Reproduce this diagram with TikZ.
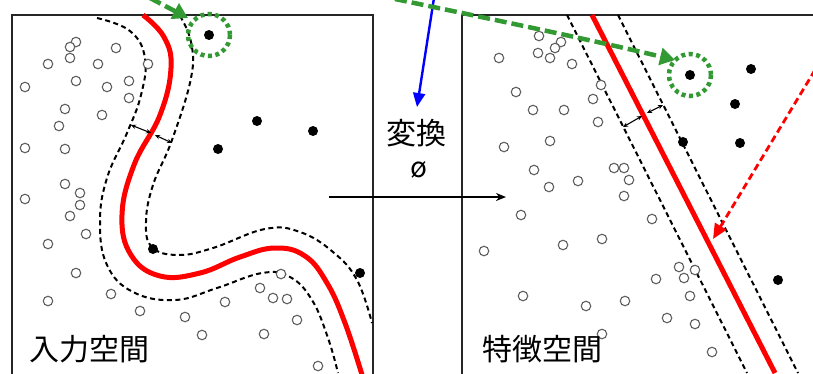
\documentclass[tikz,border=0pt]{standalone}
\usepackage{fontspec}
\setmainfont{Noto Sans CJK JP}
\usetikzlibrary{arrows.meta}
\definecolor{ggreen}{RGB}{51,153,51}
\definecolor{gray6}{RGB}{95,95,95}
\begin{document}
\begin{tikzpicture}[x=1pt,y=-1pt,
  open/.style={circle,draw=gray6,fill=white,line width=1.1pt,inner sep=0pt,minimum size=9.5pt},
  full/.style={circle,fill=black,inner sep=0pt,minimum size=10pt},
  frame/.style={line width=2pt, draw=black!85},
  margin/.style={dash pattern=on 5pt off 3.5pt, line width=2pt},
  sep/.style={red, line width=5pt},
  gap/.style={{Stealth[length=5pt,width=4.5pt]}-{Stealth[length=5pt,width=4.5pt]}, line width=1.1pt},
  hl/.style={draw=ggreen, dash pattern=on 4pt off 3.5pt, line width=4.5pt},
  garrow/.style={draw=ggreen, dash pattern=on 12pt off 5pt, line width=4.5pt, -{Triangle[length=15pt,width=17pt,fill=ggreen]}},
  lbl/.style={font=\fontsize{30}{30}\selectfont, inner sep=0pt}
]
\useasboundingbox (0,0) rectangle (813,373);
\clip (0,0) rectangle (813,373);
\fill[white] (0,0) rectangle (813,373);

% frames
\draw[frame] (12,390) -- (12,15) -- (373,15) -- (373,390);
\draw[frame] (462,390) -- (462,15) -- (830,15);

% ---- left panel ----
\draw[margin] plot[smooth,tension=0.7] coordinates {(97,18) (130,31) (145,58) (141,95) (127,133) (107,178) (100,222) (107,265) (133,292) (175,300) (217,288) (262,273) (290,277) (312,300) (328,338) (338,373)};
\draw[margin] plot[smooth,tension=0.7] coordinates {(180,16) (191,42) (191,78) (172,140) (153,185) (146,222) (152,247) (178,255) (213,248) (265,229) (300,232) (333,252) (357,280) (372,323)};
\draw[sep] plot[smooth,tension=0.7] coordinates {(143,15) (164,37) (171,68) (160,115) (134,165) (122,215) (131,255) (160,276) (200,273) (240,257) (275,248) (305,256) (327,283) (345,323) (363,378)};

\coordinate (la1) at (131,125); \coordinate (la2) at (151,133);
\coordinate (la3) at (155,135); \coordinate (la4) at (172,143);
\draw[gap] (la1) -- (la2);
\draw[gap] (la3) -- (la4);

\foreach \p in {(76,42),(70,47),(116,48),(48,64),(70,58),(98,64),(148,64),(25,87),(76,81),(107,87),(129,81),(129,98),(65,109),(102,115),(59,126),(25,148),(65,149),(65,184),(80,193),(25,199),(80,205),(70,216),(86,234),(48,244),(76,273),(48,301),(111,294),(140,311),(185,317),(225,302),(202,335),(260,288),(281,274),(273,298),(287,299),(297,320),(264,334),(318,366)}
  \node[open] at \p {};

\node[full] (lsel) at (209,35) {};
\foreach \p in {(257,121),(313,131),(218,149),(153,249),(360,273)}
  \node[full] at \p {};
\draw[hl] (lsel) circle (21);

% ---- right panel ----
\draw[margin] (567,15) -- (747,373);
\draw[margin] (618,15) -- (798,373);
\draw[sep] (592,15) -- (775,373);
\coordinate (ra1) at (623,127); \coordinate (ra2) at (642,116);
\coordinate (ra3) at (647,113); \coordinate (ra4) at (663,105);
\draw[gap] (ra1) -- (ra2);
\draw[gap] (ra3) -- (ra4);

\foreach \p in {(539,36),(561,42),(555,48),(499,58),(538,53),(550,58),(572,64),(601,85),(516,92),(593,99),(533,110),(564,110),(598,122),(504,147),(550,141),(534,170),(614,168),(624,168),(629,180),(578,181),(549,187),(624,196),(521,215),(652,219),(602,239),(563,245),(484,251),(679,267),(695,270),(656,279),(684,278),(523,296),(690,296),(625,301),(586,306),(667,318),(695,324),(602,334),(712,352)}
  \node[open] at \p {};

\node[full] (rsel) at (690,75) {};
\foreach \p in {(751,69),(735,104),(740,143),(683,142),(778,280)}
  \node[full] at \p {};
\draw[hl] (rsel) circle (21);

% ---- transform ----
\coordinate (hs) at (329,197); \coordinate (he) at (506,197);
\draw[line width=1.8pt,-{Stealth[length=10pt,width=8pt]}] (hs) -- (he);
\node[lbl] (tr) at (416,133) {変換};
\node[font=\fontsize{28}{28}\selectfont, inner sep=0pt] (phi) at (419,170) {ø};

\coordinate (bs) at (434,-2);
\coordinate (be) at (417,107);
\draw[blue, line width=2.4pt, -{Triangle[length=14pt,width=12pt]}] (bs) -- (be);

% green arrows
\coordinate (g1s) at (150,-2);
\coordinate (g1e) at (188,18);
\draw[garrow] (g1s) -- (g1e);
\coordinate (g2s) at (395,-1);
\coordinate (g2e) at (675,60);
\draw[garrow] (g2s) .. controls (520,25) and (600,42) .. (g2e);

% red dashed arrow
\coordinate (rs) at (815,70);
\coordinate (re) at (713,239);
\draw[red, dash pattern=on 7pt off 4pt, line width=2.8pt, -{Triangle[length=15pt,width=13pt]}] (rs) -- (re);

% labels
\node[lbl] (in) at (89,349) {入力空間};
\node[lbl] (fe) at (542,349) {特徴空間};
\end{tikzpicture}
\end{document}
